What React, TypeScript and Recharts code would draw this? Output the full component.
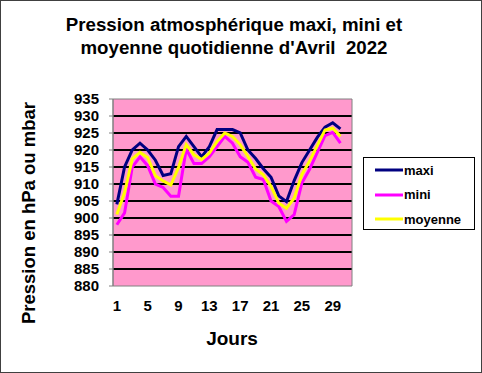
import React from 'react';
import { LineChart, Line, XAxis, YAxis, CartesianGrid, Legend, ReferenceArea } from 'recharts';

const FONT = '"Liberation Sans", Arial, Helvetica, sans-serif';

const titleLines = ['Pression atmosphérique maxi, mini et', "moyenne quotidienne d'Avril  2022"];
const yAxisTitle = 'Pression en hPa ou mbar';
const xAxisTitle = 'Jours';

const days = [1, 2, 3, 4, 5, 6, 7, 8, 9, 10, 11, 12, 13, 14, 15, 16, 17, 18, 19, 20, 21, 22, 23, 24, 25, 26, 27, 28, 29, 30];
const maxi = [904, 915, 920, 922, 920, 917, 912.5, 913, 921, 924, 921, 918, 921, 926, 926, 926, 925, 920, 917.5, 914.5, 912, 906.5, 904.8, 911, 916.3, 920, 923.7, 926.7, 928, 926.2];
const mini = [898, 901.5, 915, 918, 915.4, 910, 909, 906.4, 906.4, 920.3, 916, 916, 918, 921, 924, 922, 918, 916.4, 912, 911.3, 905, 903.4, 899, 901, 910.3, 914.3, 919.3, 924.2, 925.2, 922];
const moyenne = [901, 907.5, 917.4, 919.3, 917.8, 912.4, 910.9, 909.7, 914.9, 921.6, 918.6, 917.2, 919.1, 922.5, 925, 924, 921.6, 918.1, 914.4, 912.7, 909.3, 904.4, 902.9, 905.8, 912.8, 916.8, 921.3, 925.9, 926.4, 924];

const slotCount = 31; // category slots on the axis (days 1..31)
const xTickLabels = [1, 5, 9, 13, 17, 21, 25, 29];
const yTicks = [880, 885, 890, 895, 900, 905, 910, 915, 920, 925, 930, 935];
const gridValues = [885, 890, 895, 900, 905, 910, 915, 920, 925, 930];

const series = [
  { key: 'maxi', name: 'maxi', color: '#000080', values: maxi },
  { key: 'mini', name: 'mini', color: '#FF00FF', values: mini },
  { key: 'moyenne', name: 'moyenne', color: '#FFFF00', values: moyenne },
];

const rows = days.map((d, i) => ({ day: d, maxi: maxi[i], mini: mini[i], moyenne: moyenne[i] }));
const slotBounds = Array.from({ length: slotCount + 1 }, (_, i) => i + 0.5);
const xDomain = [0.5, slotCount + 0.5];

const YTitle = () => (
  <text
    transform="translate(35,213) rotate(-90)"
    textAnchor="middle"
    fontFamily={FONT}
    fontWeight="bold"
    fontSize={18.5}
    fill="#000"
  >
    {yAxisTitle}
  </text>
);

const XTitle = () => (
  <text x={232} y={345} textAnchor="middle" fontFamily={FONT} fontWeight="bold" fontSize={19} fill="#000">
    {xAxisTitle}
  </text>
);

const LegendBox = () => (
  <div
    style={{
      width: 112,
      height: 73,
      boxSizing: 'border-box',
      border: '1px solid #000',
      background: '#fff',
      fontFamily: FONT,
      fontWeight: 'bold',
      fontSize: 13,
      color: '#000',
    }}
  >
    {series.map((s) => (
      <div key={s.key} style={{ height: 24.5, display: 'flex', alignItems: 'center', paddingLeft: 11 }}>
        <svg width={28} height={4} style={{ display: 'block' }}>
          <line x1={0} y1={2} x2={28} y2={2} stroke={s.color} strokeWidth={3} />
        </svg>
        <span style={{ marginLeft: 1, lineHeight: '15px' }}>{s.name}</span>
      </div>
    ))}
  </div>
);

const tickStyle = { fill: '#000', fontSize: 15, fontWeight: 'bold', fontFamily: FONT };

export default function App() {
  return (
    <div style={{ position: 'absolute', left: 0, top: 0, width: 482, height: 373, background: '#fff' }}>
      <LineChart
        width={482}
        height={373}
        data={rows}
        margin={{ top: 99, right: 130, bottom: 0, left: 0 }}
        style={{ fontFamily: FONT }}
      >
        <CartesianGrid
          vertical={false}
          horizontalValues={gridValues}
          stroke="#000"
          strokeWidth={2}
          fill="#FF99CC"
          fillOpacity={1}
        />
        <XAxis
          xAxisId="tk"
          type="number"
          dataKey="day"
          domain={xDomain}
          allowDataOverflow
          ticks={slotBounds}
          interval={0}
          tickFormatter={() => ''}
          height={0}
          tickSize={4}
          stroke="#808080"
        />
        <XAxis
          xAxisId="lab"
          type="number"
          dataKey="day"
          domain={xDomain}
          allowDataOverflow
          ticks={xTickLabels}
          interval={0}
          height={87}
          tickSize={4}
          tickMargin={10}
          tickLine={false}
          axisLine={false}
          tick={tickStyle}
          label={<XTitle />}
        />
        <YAxis
          width={113}
          type="number"
          domain={[880, 935]}
          allowDataOverflow
          ticks={yTicks}
          interval={0}
          tickSize={4}
          tickMargin={10}
          stroke="#808080"
          tick={tickStyle}
          label={<YTitle />}
        />
        <ReferenceArea
          xAxisId="tk"
          x1={xDomain[0]}
          x2={xDomain[1]}
          y1={880}
          y2={935}
          fill="none"
          stroke="#808080"
          strokeWidth={1}
          ifOverflow="visible"
        />
        {series.map((s) => (
          <Line
            key={s.key}
            xAxisId="tk"
            type="linear"
            dataKey={s.key}
            name={s.name}
            stroke={s.color}
            strokeWidth={3}
            dot={false}
            activeDot={false}
            isAnimationActive={false}
          />
        ))}
        <Legend
          layout="vertical"
          align="center"
          verticalAlign="middle"
          wrapperStyle={{ position: 'absolute', left: 363, top: 157, width: 112, height: 73 }}
          content={() => <LegendBox />}
        />
      </LineChart>
      <div
        style={{
          position: 'absolute',
          left: 0,
          top: 13,
          width: 468,
          textAlign: 'center',
          fontFamily: FONT,
          fontWeight: 'bold',
          fontSize: 18.7,
          lineHeight: '23px',
          whiteSpace: 'pre',
          color: '#000',
          pointerEvents: 'none',
        }}
      >
        {titleLines.map((t) => (
          <div key={t}>{t}</div>
        ))}
      </div>
      <div
        style={{
          position: 'absolute',
          left: 0,
          top: 0,
          width: 482,
          height: 373,
          boxSizing: 'border-box',
          border: '1px solid #404040',
          pointerEvents: 'none',
        }}
      />
    </div>
  );
}
